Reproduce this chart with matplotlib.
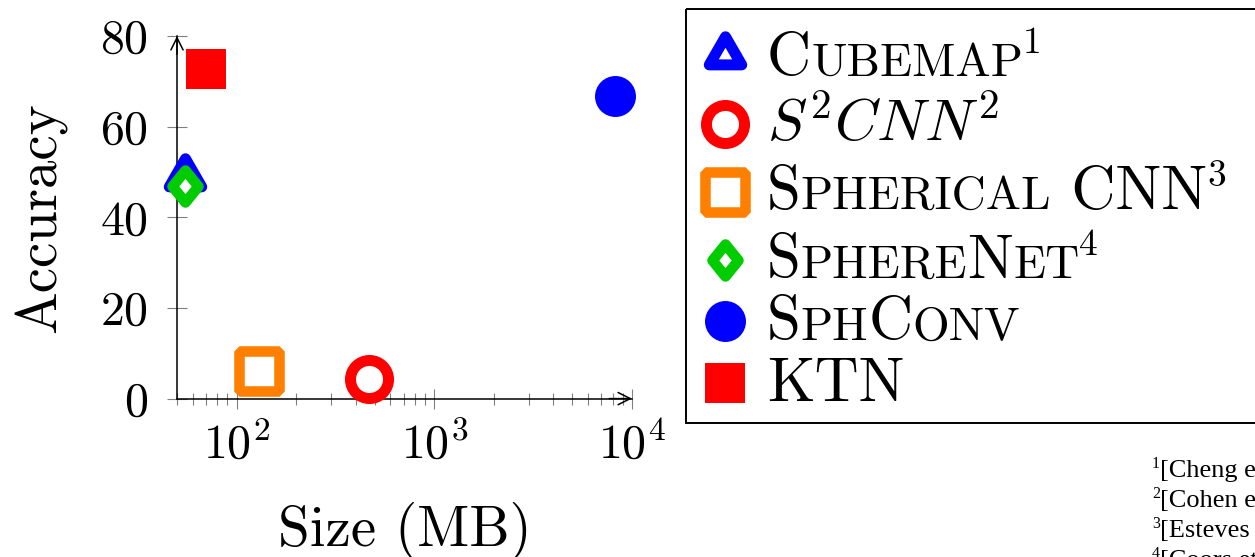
import numpy as np
import matplotlib
matplotlib.use('Agg')
import matplotlib.pyplot as plt
import matplotlib.ticker as mticker
from matplotlib.markers import MarkerStyle
from matplotlib.patches import Rectangle
from matplotlib.path import Path

plt.rcParams['font.family'] = ['cmr10', 'DejaVu Serif']
plt.rcParams['mathtext.fontset'] = 'cm'
plt.rcParams['axes.formatter.use_mathtext'] = True
plt.rcParams['axes.unicode_minus'] = False

# data
methods = ['Cubemap', 'S2CNN', 'Spherical CNN', 'SphereNet', 'SphConv', 'KTN']
sizes_mb = [55, 470, 130, 55, 8200, 70]
accuracy = [49.0, 4.3, 6.1, 46.8, 66.7, 72.8]
colors = ['#0000ff', '#ff0000', '#ff8000', '#00cc00', '#0000ff', '#ff0000']
hollow = [True, True, True, True, False, False]

# legend labels, split into pieces to fake small caps
legend_labels = [
    [('C', 'big'), ('UBEMAP', 'sc'), ('1', 'sup')],
    [(r'$S^2CNN^2$', 'math')],
    [('S', 'big'), ('PHERICAL', 'sc'), (' CNN', 'big'), ('3', 'sup')],
    [('S', 'big'), ('PHERE', 'sc'), ('N', 'big'), ('ET', 'sc'), ('4', 'sup')],
    [('S', 'big'), ('PH', 'sc'), ('C', 'big'), ('ONV', 'sc')],
    [('KTN', 'big')],
]
footnotes = ['[Cheng et al., 2018]', '[Cohen et al., 2018]',
             '[Esteves et al., 2018]', '[Coors et al., 2018]']

W, H = 1255, 557
fig = plt.figure(figsize=(W / 100, H / 100), dpi=100)

# marker shapes like pgfplots
tri = Path([(0, 1.0), (-0.866, -0.5), (0.866, -0.5), (0, 0)], closed=True)
dia = Path([(0, 16), (13, 0), (0, -16), (-13, 0), (0, 0)], closed=True)
styles = [
    dict(marker=MarkerStyle(tri, joinstyle='bevel'), ms=27, mew=7.9),
    dict(marker='o', ms=27.4, mew=7.9),
    dict(marker=MarkerStyle('s', joinstyle='bevel'), ms=28.4, mew=7.6),
    dict(marker=MarkerStyle(dia, joinstyle='miter'), ms=23, mew=7.6),
    dict(marker='o', ms=29.5, mew=0),
    dict(marker='s', ms=29.5, mew=0),
]
for st, c, h in zip(styles, colors, hollow):
    st['mec'] = c
    st['mfc'] = 'white' if h else c

ax = fig.add_axes([177 / W, (H - 398.6) / H, 455 / W, 362.6 / H])
for i in range(len(methods)):
    ax.plot(sizes_mb[i], accuracy[i], ls='none', clip_on=False, zorder=3, **styles[i])

ax.set_xscale('log')
ax.set_xlim(50, 1e4)
ax.set_ylim(0, 80)
ax.set_yticks([0, 20, 40, 60, 80])
ax.xaxis.set_major_locator(mticker.LogLocator(base=10))
ax.xaxis.set_minor_locator(mticker.LogLocator(base=10, subs=np.arange(2, 10)))
ax.xaxis.set_minor_formatter(mticker.NullFormatter())
ax.tick_params(which='major', direction='inout', length=14, width=0.8,
               color='gray', labelsize=34.5)
ax.tick_params(axis='y', pad=14)
ax.tick_params(axis='x', which='major', pad=10)
ax.tick_params(which='minor', direction='inout', length=8, width=0.8, color='gray')
ax.spines[['top', 'right']].set_visible(False)
for s in ['left', 'bottom']:
    ax.spines[s].set_linewidth(1.1)

arr = dict(arrowstyle='->', lw=1.1, color='black', shrinkA=0, shrinkB=0,
           mutation_scale=22)
ax.annotate('', xy=(1, 0), xytext=(0.95, 0), xycoords='axes fraction',
            arrowprops=arr, annotation_clip=False)
ax.annotate('', xy=(0, 1), xytext=(0, 0.95), xycoords='axes fraction',
            arrowprops=arr, annotation_clip=False)

ax.set_xlabel('Size (MB)', fontsize=41, labelpad=24)
ax.set_ylabel('Accuracy', fontsize=41)
ax.yaxis.set_label_coords((67 - 177) / 455, 0.5)

# overlay in pixel coordinates for the legend and footnotes
lax = fig.add_axes([0, 0, 1, 1], zorder=5)
lax.set_xlim(0, W)
lax.set_ylim(H, 0)
lax.axis('off')
lax.patch.set_alpha(0)


def chain(x, y, pieces):
    prev = None
    for txt, size, dy, fam in pieces:
        kw = dict(fontsize=size, va='baseline', ha='left', family=fam,
                  annotation_clip=False)
        if prev is None:
            prev = lax.annotate(txt, xy=(x, y - dy), xycoords='data', **kw)
        else:
            prev = lax.annotate(txt, xy=(1, y - dy), xycoords=(prev, 'data'), **kw)


lax.add_patch(Rectangle((685.5, 9.3), 600, 413.7, fill=False, lw=1.4,
                        ec='black', clip_on=False))
row_y = [54.6, 123.5, 192, 260, 321, 383]
base_y = [75.5, 141, 209, 277.5, 339.5, 400.7]
sizes = {'big': (44, 0), 'math': (42.5, 0), 'sc': (34, 0), 'sup': (27, 22.5)}
for i in range(len(methods)):
    lax.plot(724.7, row_y[i], ls='none', clip_on=False, **styles[i])
    pieces = [(t, sizes[k][0], sizes[k][1], ['cmr10']) for t, k in legend_labels[i]]
    chain(767, base_y[i], pieces)

for i, note in enumerate(footnotes):
    chain(1152, 477 + 30 * i, [(str(i + 1), 11.5, 8.5, ['Liberation Serif']),
                               (note, 19, 0, ['Liberation Serif'])])

fig.savefig('out.png', dpi=100)
